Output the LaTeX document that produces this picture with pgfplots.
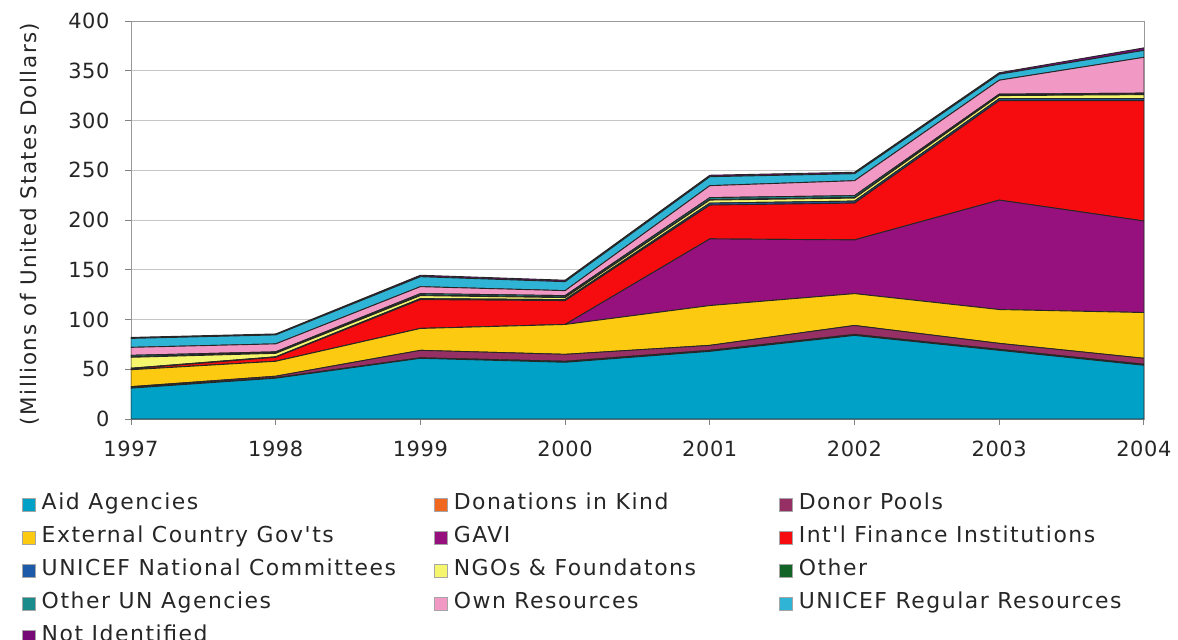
\documentclass[border=0pt]{standalone}
\usepackage{pgfplots}
\usepackage{pgfplotstable}
\pgfplotsset{compat=1.18}
\usepackage{fontspec}
\setmainfont{DejaVu Sans}
\newfontfamily\lsfont[LetterSpace=7]{DejaVu Sans}
\newfontfamily\tkfont[LetterSpace=3]{DejaVu Sans}
\definecolor{caid}{RGB}{0,161,199}
\definecolor{cdon}{RGB}{240,104,32}
\definecolor{cpool}{RGB}{150,48,100}
\definecolor{cext}{RGB}{252,202,16}
\definecolor{cgavi}{RGB}{150,16,126}
\definecolor{cifi}{RGB}{246,12,14}
\definecolor{cnat}{RGB}{30,90,170}
\definecolor{cngo}{RGB}{246,246,110}
\definecolor{cother}{RGB}{20,100,40}
\definecolor{cun}{RGB}{26,140,140}
\definecolor{cown}{RGB}{242,152,196}
\definecolor{creg}{RGB}{48,180,214}
\definecolor{cnot}{RGB}{120,10,120}
\pgfplotstableread{
year aid don pool ext gavi ifi nat ngo other un own reg notid
1997 31 0.5 1 17 0 1 0.5 11 0.5 1.5 8 9 1
1998 41 0.5 1.5 15 0 4 0.5 3.5 0.5 1 8 9 1
1999 61 0.5 7.5 22 0 29 1 3 0.5 1.5 7 10 1.5
2000 57 1 7 30 0 24 1 2 0.5 1.5 5 9 1.5
2001 68 1 5 40 67 34 2 3 0.5 2 12 9 1.5
2002 84 1 9 32 54 37 2 3 0.5 2 15 7 1.5
2003 69 1 6 34 110 100 2 3 0.5 1 14 6 1.5
2004 54 1 6 46 92 121 2 4 0.5 1 36 7 2.5
}\datatable
\begin{document}
\begin{tikzpicture}
\begin{axis}[
  scale only axis,
  width=1013bp, height=398bp,
  xmin=1997, xmax=2004, ymin=0, ymax=400,
  xtick={1997,...,2004}, ytick={0,50,...,400},
  /pgf/number format/1000 sep={},
  /pgf/number format/assume math mode=true,
  ticklabel style={font=\tkfont\fontsize{21}{25}\selectfont, text=black!85},
  yticklabel style={xshift=-12bp},
  xticklabel style={yshift=-12bp},
  tick align=outside, major tick length=6bp,
  tick style={gray, line width=0.8bp},
  axis line style={gray!80, line width=0.8bp},
  ymajorgrids, grid style={gray!45, line width=0.8bp},
  xtick pos=bottom, ytick pos=left,
  ylabel={(Millions of United States Dollars)},
  ylabel style={font=\lsfont\fontsize{21.5}{25}\selectfont, text=black!85, at={(axis description cs:-0.0997,0.49)}, anchor=center},
  stack plots=y,
  every axis plot/.append style={draw=black!85, line width=0.9bp, mark=none},
  area legend,
  legend image code/.code={\fill[#1, draw=gray!70, line width=0.6bp] (0bp,-6.5bp) rectangle (13bp,6.5bp); \path (17bp,0bp);},
  legend columns=3,
  legend cell align=left,
  legend style={draw=none, fill=none, inner sep=0pt, outer sep=0pt,
    at={(axis description cs:-0.1076,-0.183)}, anchor=north west,
    font=\lsfont\fontsize{22}{26}\selectfont,
    nodes={text height=16bp, text depth=5bp, inner sep=2bp, text=black!85},
    row sep=8bp,
    /tikz/column 2/.style={column sep=36bp},
    /tikz/column 4/.style={column sep=81bp}},
]
\addplot[fill=caid] table[x=year,y=aid]{\datatable} \closedcycle;
\addlegendentry{Aid Agencies}
\addplot[fill=cdon] table[x=year,y=don]{\datatable} \closedcycle;
\addlegendentry{Donations in Kind}
\addplot[fill=cpool] table[x=year,y=pool]{\datatable} \closedcycle;
\addlegendentry{Donor Pools}
\addplot[fill=cext] table[x=year,y=ext]{\datatable} \closedcycle;
\addlegendentry{External Country Gov'ts}
\addplot[fill=cgavi] table[x=year,y=gavi]{\datatable} \closedcycle;
\addlegendentry{GAVI}
\addplot[fill=cifi] table[x=year,y=ifi]{\datatable} \closedcycle;
\addlegendentry{Int'l Finance Institutions}
\addplot[fill=cnat] table[x=year,y=nat]{\datatable} \closedcycle;
\addlegendentry{UNICEF National Committees}
\addplot[fill=cngo] table[x=year,y=ngo]{\datatable} \closedcycle;
\addlegendentry{NGOs \& Foundatons}
\addplot[fill=cother] table[x=year,y=other]{\datatable} \closedcycle;
\addlegendentry{Other}
\addplot[fill=cun] table[x=year,y=un]{\datatable} \closedcycle;
\addlegendentry{Other UN Agencies}
\addplot[fill=cown] table[x=year,y=own]{\datatable} \closedcycle;
\addlegendentry{Own Resources}
\addplot[fill=creg] table[x=year,y=reg]{\datatable} \closedcycle;
\addlegendentry{UNICEF Regular Resources}
\addplot[fill=cnot] table[x=year,y=notid]{\datatable} \closedcycle;
\addlegendentry{Not Identified}
\coordinate (bl) at (rel axis cs:0,0);
\end{axis}
\pgfresetboundingbox
\path (bl) ++(-131bp,-221bp) rectangle ++(1178bp,640bp);
\end{tikzpicture}
\end{document}
